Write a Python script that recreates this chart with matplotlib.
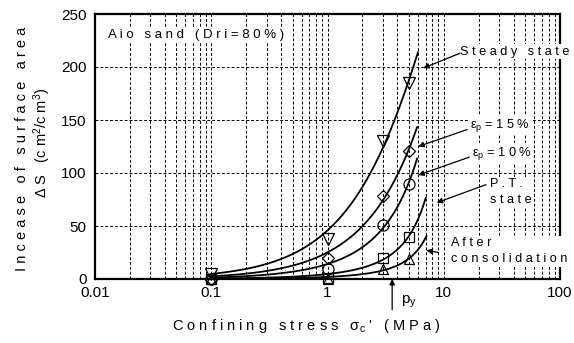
import numpy as np
import matplotlib
matplotlib.use("Agg")
import matplotlib.pyplot as plt
from matplotlib.ticker import FixedLocator, LogLocator, NullFormatter

plt.rcParams['font.family'] = ['Liberation Sans', 'DejaVu Sans']
plt.rcParams['mathtext.fontset'] = 'custom'
plt.rcParams['mathtext.rm'] = 'Liberation Sans'
plt.rcParams['mathtext.it'] = 'Liberation Sans:italic'

# Confining stress levels (MPa) and measured surface-area increase (cm2/cm3)
stress = [0.1, 1, 3, 5]
steady_state = [5, 38, 130, 185]
strain_15 = [0, 20, 78, 121]
strain_10 = [0, 9, 51, 90]
pt_state = [0, 1, 20, 40]
after_consolidation = [0, 0, 9, 19]
series = [steady_state, strain_15, strain_10, pt_state, after_consolidation]
curve_end = [6.0, 5.9, 5.9, 7.0, 7.1]
yield_stress = 3.6

x_ticks = [0.01, 0.1, 1, 10, 100]
x_tick_labels = ['0.01', '0.1', '1', '10', '100']
y_ticks = [0, 50, 100, 150, 200, 250]

markers = ['v', 'D', 'o', 's', '^']
marker_sizes = [8, 6.5, 8, 7, 7.5]


def spaced(s):
    """Letter-spaced text."""
    return ' '.join(s)


def fit_curve(x, y):
    """Least-squares fit of y = c * (1 - exp(-k x)) / k."""
    x = np.asarray(x, float)
    y = np.asarray(y, float)
    best = None
    for k in np.linspace(-0.8, 0.8, 1601):
        f = x if abs(k) < 1e-9 else -np.expm1(-k * x) / k
        c = (f @ y) / (f @ f)
        err = np.sum((c * f - y) ** 2)
        if best is None or err < best[0]:
            best = (err, k, c)
    _, k, c = best

    def model(s):
        s = np.asarray(s, float)
        return c * (s if abs(k) < 1e-9 else -np.expm1(-k * s) / k)
    return model


fig = plt.figure(figsize=(5.74, 3.43), dpi=100)
ax = fig.add_axes([95 / 574, 1 - 279 / 343, 465 / 574, 265 / 343])

ax.set_xscale('log')
ax.set_xlim(0.01, 100)
ax.set_ylim(0, 250)

for vals, end, m, ms in zip(series, curve_end, markers, marker_sizes):
    model = fit_curve(stress, vals)
    xs = np.logspace(-1, np.log10(end), 200)
    ax.plot(xs, model(xs), color='black', lw=1.3, zorder=3)
    ax.plot(stress, vals, linestyle='none', marker=m, ms=ms, mfc='none',
            mec='black', mew=0.9, zorder=4, clip_on=False)

# grid
ax.xaxis.set_major_locator(FixedLocator(x_ticks))
ax.xaxis.set_minor_locator(LogLocator(base=10, subs=np.arange(2, 10)))
ax.xaxis.set_minor_formatter(NullFormatter())
ax.set_xticklabels(x_tick_labels)
ax.yaxis.set_major_locator(FixedLocator(y_ticks))
grid_kw = dict(color='black', lw=0.7, linestyle=(0, (3, 2)))
ax.grid(True, which='major', axis='both', **grid_kw)
ax.grid(True, which='minor', axis='x', **grid_kw)
ax.set_axisbelow(True)

ax.tick_params(which='both', length=0, labelsize=11)
ax.tick_params(axis='x', pad=5)
ax.tick_params(axis='y', pad=6)
for sp in ax.spines.values():
    sp.set_linewidth(1.6)

# axis titles
fig.text(22 / 574, 1 - 149 / 343, spaced('Incease of surface area'),
         rotation=90, ha='center', va='center', fontsize=10.5)
fig.text(42 / 574, 1 - 143 / 343,
         'Δ S   (c m$^{2}$/c m$^{3}$)',
         rotation=90, ha='center', va='center', fontsize=10.5)
fig.text(306 / 574, 1 - 326 / 343,
         'C o n f i n i n g   s t r e s s   σ$_{\\rm c}$ \'   ( M P a )',
         ha='center', va='center', fontsize=10.5)

box = dict(fc='white', ec='none', pad=1)
ax.text(0.028, 0.921, spaced('Aio sand (Dri=80%)'), transform=ax.transAxes,
        ha='left', va='center', fontsize=9.5, bbox=box, zorder=5)

labels = [
    (spaced('Steady state'), (0.785, 0.857), (13.8, 213), (6.67, 199)),
    ('ε$_{\\rm p}$ = 1 5 %', (0.806, 0.581), (15.9, 141), (6.04, 125)),
    ('ε$_{\\rm p}$ = 1 0 %', (0.810, 0.475), (16.6, 115), (6.04, 98)),
    (spaced('P.T.') + '\n' + spaced('state'), (0.849, 0.328), (23.1, 89), (8.7, 72)),
    (spaced('After') + '\n' + spaced('consolidation'), (0.765, 0.105), (9.0, 25), (7.1, 27)),
]
arrow_kw = dict(arrowstyle='-|>', color='black', lw=0.9, mutation_scale=8,
                shrinkA=0, shrinkB=0)
for text, pos, tail, tip in labels:
    ax.text(pos[0], pos[1], text, transform=ax.transAxes, ha='left',
            va='center', fontsize=9.2, linespacing=1.45, bbox=box, zorder=5)
    ax.annotate('', xy=tip, xytext=tail, arrowprops=arrow_kw, zorder=6)

# yield stress marker
ax.annotate('', xy=(yield_stress, 0), xytext=(yield_stress, -29),
            arrowprops=arrow_kw, annotation_clip=False)
ax.text(4.3, -21.7, 'p$_{\\rm y}$', ha='left', va='center', fontsize=11,
        clip_on=False)

fig.savefig('out.png', dpi=100)
